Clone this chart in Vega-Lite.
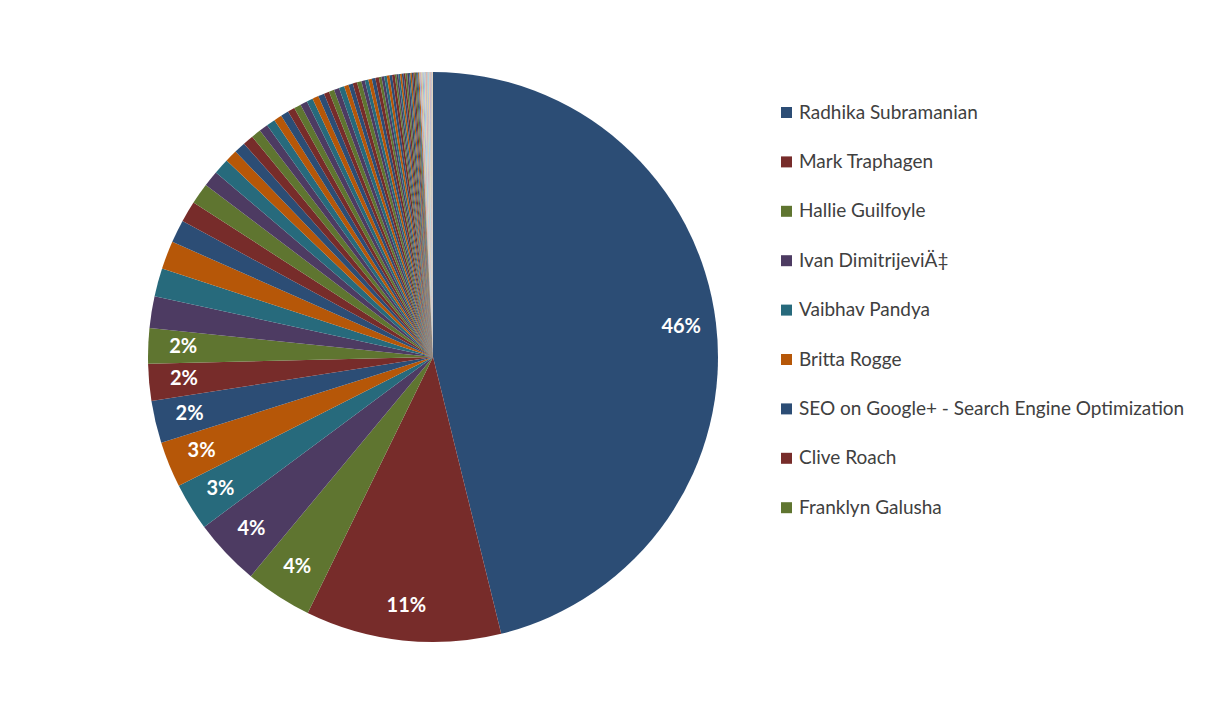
{
 "$schema": "https://vega.github.io/schema/vega-lite/v6.json",
 "width": 866, "height": 714, "autosize": "none", "padding": {"left": 0, "top": 0, "right": 340, "bottom": 0},
 "background": "white",
 "config": {"view": {"stroke": null}},
 "data": {"values": [
  {"name": "Radhika Subramanian", "rank": 1, "share": 0.462},
  {"name": "Mark Traphagen", "rank": 2, "share": 0.111},
  {"name": "Hallie Guilfoyle", "rank": 3, "share": 0.038},
  {"name": "Ivan DimitrijeviÄ‡", "rank": 4, "share": 0.038},
  {"name": "Vaibhav Pandya", "rank": 5, "share": 0.027},
  {"name": "Britta Rogge", "rank": 6, "share": 0.026},
  {"name": "SEO on Google+ - Search Engine Optimization", "rank": 7, "share": 0.024},
  {"name": "Clive Roach", "rank": 8, "share": 0.021},
  {"name": "Franklyn Galusha", "rank": 9, "share": 0.020},
  {"name": "Other 10", "rank": 10, "share": 0.018},
  {"name": "Other 11", "rank": 11, "share": 0.016},
  {"name": "Other 12", "rank": 12, "share": 0.016},
  {"name": "Other 13", "rank": 13, "share": 0.013},
  {"name": "Other 14", "rank": 14, "share": 0.012},
  {"name": "Other 15", "rank": 15, "share": 0.012},
  {"name": "Other 16", "rank": 16, "share": 0.009},
  {"name": "Other 17", "rank": 17, "share": 0.009},
  {"name": "Other 18", "rank": 18, "share": 0.007},
  {"name": "Other 19", "rank": 19, "share": 0.0065},
  {"name": "Other 20", "rank": 20, "share": 0.006},
  {"name": "Other 21", "rank": 21, "share": 0.0055},
  {"name": "Other 22", "rank": 22, "share": 0.005},
  {"name": "Other 23", "rank": 23, "share": 0.005},
  {"name": "Other 24", "rank": 24, "share": 0.0045},
  {"name": "Other 25", "rank": 25, "share": 0.0045},
  {"name": "Other 26", "rank": 26, "share": 0.004},
  {"name": "Other 27", "rank": 27, "share": 0.004},
  {"name": "Other 28", "rank": 28, "share": 0.004},
  {"name": "Other 29", "rank": 29, "share": 0.0035},
  {"name": "Other 30", "rank": 30, "share": 0.0035},
  {"name": "Other 31", "rank": 31, "share": 0.0035},
  {"name": "Other 32", "rank": 32, "share": 0.003},
  {"name": "Other 33", "rank": 33, "share": 0.003},
  {"name": "Other 34", "rank": 34, "share": 0.003},
  {"name": "Other 35", "rank": 35, "share": 0.003},
  {"name": "Other 36", "rank": 36, "share": 0.0025},
  {"name": "Other 37", "rank": 37, "share": 0.0025},
  {"name": "Other 38", "rank": 38, "share": 0.0025},
  {"name": "Other 39", "rank": 39, "share": 0.0025},
  {"name": "Other 40", "rank": 40, "share": 0.002},
  {"name": "Other 41", "rank": 41, "share": 0.002},
  {"name": "Other 42", "rank": 42, "share": 0.002},
  {"name": "Other 43", "rank": 43, "share": 0.002},
  {"name": "Other 44", "rank": 44, "share": 0.002},
  {"name": "Other 45", "rank": 45, "share": 0.0015},
  {"name": "Other 46", "rank": 46, "share": 0.0015},
  {"name": "Other 47", "rank": 47, "share": 0.0015},
  {"name": "Other 48", "rank": 48, "share": 0.0015},
  {"name": "Other 49", "rank": 49, "share": 0.0015},
  {"name": "Other 50", "rank": 50, "share": 0.0015},
  {"name": "Other 51", "rank": 51, "share": 0.001},
  {"name": "Other 52", "rank": 52, "share": 0.001},
  {"name": "Other 53", "rank": 53, "share": 0.001},
  {"name": "Other 54", "rank": 54, "share": 0.001},
  {"name": "Other 55", "rank": 55, "share": 0.001},
  {"name": "Other 56", "rank": 56, "share": 0.001},
  {"name": "Other 57", "rank": 57, "share": 0.001},
  {"name": "Other 58", "rank": 58, "share": 0.001},
  {"name": "Other 59", "rank": 59, "share": 0.0008},
  {"name": "Other 60", "rank": 60, "share": 0.0008},
  {"name": "Other 61", "rank": 61, "share": 0.0008},
  {"name": "Other 62", "rank": 62, "share": 0.0008},
  {"name": "Other 63", "rank": 63, "share": 0.0008},
  {"name": "Other 64", "rank": 64, "share": 0.0006},
  {"name": "Other 65", "rank": 65, "share": 0.0006},
  {"name": "Other 66", "rank": 66, "share": 0.0006},
  {"name": "Other 67", "rank": 67, "share": 0.0006},
  {"name": "Other 68", "rank": 68, "share": 0.0006},
  {"name": "Other 69", "rank": 69, "share": 0.0006},
  {"name": "Other 70", "rank": 70, "share": 0.0006},
  {"name": "Other 71", "rank": 71, "share": 0.0006},
  {"name": "Other 72", "rank": 72, "share": 0.0004},
  {"name": "Other 73", "rank": 73, "share": 0.0004},
  {"name": "Other 74", "rank": 74, "share": 0.0004},
  {"name": "Other 75", "rank": 75, "share": 0.0004},
  {"name": "Other 76", "rank": 76, "share": 0.0004},
  {"name": "Other 77", "rank": 77, "share": 0.0004},
  {"name": "Other 78", "rank": 78, "share": 0.0004},
  {"name": "Other 79", "rank": 79, "share": 0.0004},
  {"name": "Other 80", "rank": 80, "share": 0.0003},
  {"name": "Other 81", "rank": 81, "share": 0.0003},
  {"name": "Other 82", "rank": 82, "share": 0.0003},
  {"name": "Other 83", "rank": 83, "share": 0.0003},
  {"name": "Other 84", "rank": 84, "share": 0.0003}
 ]},
 "encoding": {
  "theta": {"field": "share", "type": "quantitative", "stack": true},
  "order": {"field": "rank", "type": "quantitative"}
 },
 "layer": [
  {
   "mark": {"type": "arc", "outerRadius": 285},
   "encoding": {
    "color": {
     "field": "name", "type": "nominal",
     "sort": {"field": "rank", "op": "min"},
     "scale": {"range": [
      "#2C4D75","#772C2A","#5F7530","#4D3B62","#276A7C","#B65708",
      "#2C4D75","#772C2A","#5F7530","#4D3B62","#276A7C","#B65708",
      "#2C4D75","#772C2A","#5F7530","#4D3B62","#276A7C","#B65708",
      "#2C4D75","#772C2A","#5F7530","#4D3B62","#276A7C","#B65708",
      "#2C4D75","#772C2A","#5F7530","#4D3B62","#276A7C","#B65708",
      "#2C4D75","#772C2A","#5F7530","#4D3B62","#276A7C","#B65708",
      "#2C4D75","#772C2A","#5F7530","#4D3B62","#276A7C","#B65708",
      "#2C4D75","#772C2A","#5F7530","#4D3B62","#276A7C","#B65708",
      "#2C4D75","#772C2A","#5F7530","#4D3B62","#276A7C","#B65708",
      "#2C4D75","#772C2A","#5F7530","#4D3B62","#276A7C","#B65708",
      "#2C4D75","#772C2A","#5F7530","#4D3B62","#276A7C","#B65708",
      "#95B3D7","#D99694","#C3D69B","#B3A2C7","#93CDDD","#FAC090",
      "#95B3D7","#D99694","#C3D69B","#B3A2C7","#93CDDD","#FAC090",
      "#95B3D7","#D99694","#C3D69B","#B3A2C7","#93CDDD","#FAC090"
     ]},
     "legend": {
      "values": ["Radhika Subramanian","Mark Traphagen","Hallie Guilfoyle","Ivan DimitrijeviÄ‡","Vaibhav Pandya","Britta Rogge","SEO on Google+ - Search Engine Optimization","Clive Roach","Franklyn Galusha"],
      "orient": "none", "legendX": 777, "legendY": 103, "title": null, "padding": 0,
      "symbolType": "square", "symbolSize": 121, "symbolStrokeWidth": 0,
      "labelFont": "Lato", "labelFontSize": 19, "labelColor": "#404040",
      "labelOffset": 3, "rowPadding": 29.4, "labelLimit": 500
     }
    }
   }
  },
  {
   "transform": [{"filter": "datum.rank <= 9"}],
   "mark": {"type": "text", "radius": 250, "font": "Lato", "fontWeight": "bold", "fontSize": 20, "fill": "white"},
   "encoding": {"text": {"field": "share", "format": ".0%"}}
  }
 ]
}
